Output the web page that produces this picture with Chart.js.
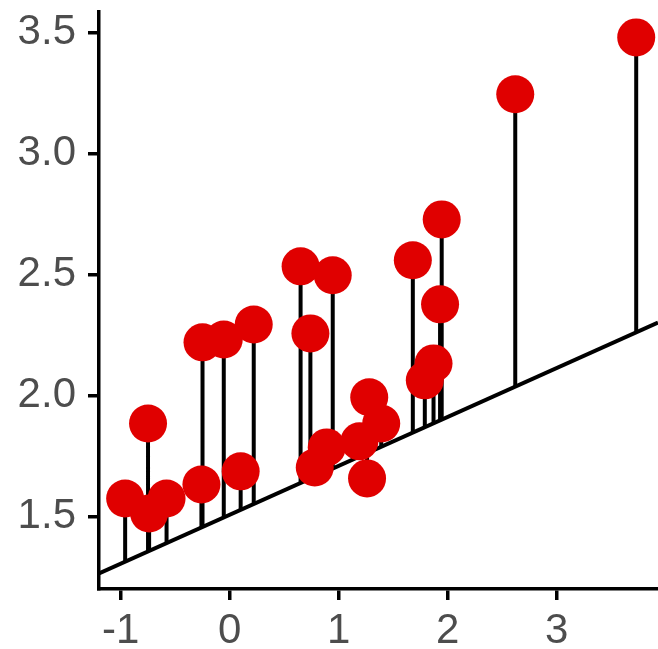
<!DOCTYPE html>
<html>
<head>
<meta charset="utf-8">
<script src="https://cdn.jsdelivr.net/npm/chart.js@4"></script>
<style>
  body { margin: 0; background: #fff; }
  #wrap { width: 658px; height: 649px; }
</style>
</head>
<body>
<div id="wrap"><canvas id="lollipop" width="658" height="649"></canvas></div>
<script>
// ===== Data =====
const xValues = [-0.96, -0.75, -0.74, -0.58, -0.26, -0.25, -0.055, 0.10, 0.22, 0.65,
                 0.74, 0.78, 0.945, 0.89, 1.19, 1.28, 1.39, 1.26, 1.68, 1.79,
                 1.87, 1.93, 1.945, 2.62, 3.73];
const yValues = [1.574, 1.884, 1.512, 1.574, 1.632, 2.219, 2.231, 1.686, 2.293, 2.533,
                 2.256, 1.702, 2.496, 1.785, 1.810, 1.992, 1.884, 1.657, 2.558, 2.062,
                 2.132, 2.376, 2.727, 3.244, 3.479];

// reference line (y = intercept + slope * x)
const lineIntercept = 1.507;
const lineSlope = 0.202;
const lineRange = [-1.2, 3.93];

const xTicks = [-1, 0, 1, 2, 3];
const yTicks = [1.5, 2.0, 2.5, 3.0, 3.5];

// ===== Build datasets =====
let points = xValues.map((x, i) => ({ x: x, y: yValues[i] }));

let stems = [];
xValues.forEach((x, i) => {
  stems.push({ x: x, y: lineIntercept + lineSlope * x });
  stems.push({ x: x, y: yValues[i] });
  stems.push({ x: x, y: null });
});

let refLine = lineRange.map(x => ({ x: x, y: lineIntercept + lineSlope * x }));

const fontFamily = "'Liberation Sans', Arial, sans-serif";
const xFont = { family: fontFamily, size: 42 };
// tiny line height so the top label does not push the plot down
const yFont = { family: fontFamily, size: 42, lineHeight: 0.01 };

const ctx = document.getElementById('lollipop').getContext('2d');
const chart = new Chart(ctx, {
  type: 'scatter',
  data: {
    datasets: [
      {
        label: 'points',
        data: points,
        backgroundColor: '#e00000',
        borderWidth: 0,
        pointRadius: 19,
        pointHoverRadius: 19,
        clip: false
      },
      {
        label: 'stems',
        type: 'line',
        data: stems,
        borderColor: '#000',
        borderWidth: 4,
        borderCapStyle: 'butt',
        pointRadius: 0,
        spanGaps: false,
        showLine: true
      },
      {
        label: 'line',
        type: 'line',
        data: refLine,
        borderColor: '#000',
        borderWidth: 4,
        pointRadius: 0,
        showLine: true
      }
    ]
  },
  options: {
    responsive: false,
    animation: false,
    layout: { autoPadding: false, padding: 0 },
    plugins: { legend: { display: false }, tooltip: { enabled: false } },
    scales: {
      x: {
        type: 'linear',
        min: lineRange[0],
        max: lineRange[1],
        afterBuildTicks: s => { s.ticks = xTicks.map(v => ({ value: v })); },
        afterFit: s => { s.height = 60; },
        border: { display: true, color: '#000', width: 3.5 },
        grid: { drawOnChartArea: false, drawTicks: true, tickLength: 11, color: '#000', lineWidth: 3.5 },
        ticks: {
          color: '#4d4d4d',
          font: xFont,
          padding: 6,
          maxRotation: 0,
          callback: v => String(v)
        }
      },
      y: {
        type: 'linear',
        min: 1.2,
        max: 3.583,
        afterBuildTicks: s => { s.ticks = yTicks.map(v => ({ value: v })); },
        afterFit: s => { s.width = 99; },
        border: { display: true, color: '#000', width: 3.5 },
        grid: { drawOnChartArea: false, drawTicks: true, tickLength: 11, color: '#000', lineWidth: 3.5 },
        ticks: {
          color: '#4d4d4d',
          font: yFont,
          padding: 12,
          callback: v => v.toFixed(1)
        }
      }
    }
  }
});
</script>
</body>
</html>
